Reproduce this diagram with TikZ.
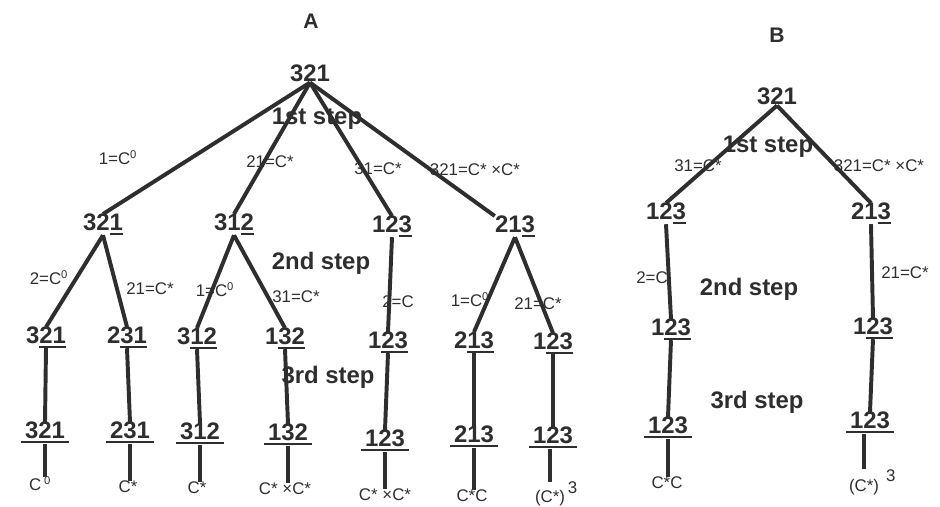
\documentclass[tikz,border=0pt]{standalone}
\usepackage{fontspec}
\setmainfont{Liberation Sans}
\usetikzlibrary{positioning}
\colorlet{ink}{black!82}
\newcommand\uln[1]{\setbox0\hbox{#1}\rlap{\rule[-2.8pt]{\wd0}{1.5pt}}\box0}
\newcommand\ulx[1]{\setbox0\hbox{#1}\kern-3pt\rlap{\rule[-3.2pt]{\dimexpr\wd0+6pt\relax}{1.7pt}}\kern3pt\box0}
\tikzset{perm/.style={font=\fontsize{17}{17}\selectfont\bfseries, text=ink, inner sep=0pt, anchor=base},
    branch/.style={draw=ink, line width=2.8pt},
    edgelbl/.style={font=\fontsize{12}{12}\selectfont, text=ink, inner sep=0pt},
    steplbl/.style={font=\fontsize{17}{17}\selectfont\bfseries, text=ink, inner sep=0pt},
    treetitle/.style={font=\fontsize{15}{15}\selectfont\bfseries, text=ink, inner sep=0pt}}
\begin{document}
\begin{tikzpicture}[x=0.25mm,y=-0.25mm]
\useasboundingbox (0,0) rectangle (940,507);
\begin{scope}
	\node[treetitle] (titleA) at (311,21) {A};
	\node[perm] (rA) at (310,82) {321};
	\node[perm] (a1) at (103,231) {32\uln{1}};
	\node[perm] (a2) at (234,231) {31\uln{2}};
	\node[perm] (a3) at (392,233) {12\uln{3}};
	\node[perm] (a4) at (515,233) {21\uln{3}};
	\node[perm] (b1) at (46,344) {3\uln{21}};
	\node[perm] (b2) at (127,344) {2\uln{31}};
	\node[perm] (b3) at (197,345) {3\uln{12}};
	\node[perm] (b4) at (285,345) {1\uln{32}};
	\node[perm] (b5) at (388,349) {1\uln{23}};
	\node[perm] (b6) at (474,349) {2\uln{13}};
	\node[perm] (b7) at (553,350) {1\uln{23}};
	\node[perm] (c1) at (45,439) {\ulx{321}};
	\node[perm] (c2) at (130,439) {\ulx{231}};
	\node[perm] (c3) at (200,440) {\ulx{312}};
	\node[perm] (c4) at (288,441) {\ulx{132}};
	\node[perm] (c5) at (385,447) {\ulx{123}};
	\node[perm] (c6) at (474,443) {\ulx{213}};
	\node[perm] (c7) at (553,444) {\ulx{123}};
	\node[edgelbl] (d1) at (40,484) {C\,\textsuperscript{0}};
	\node[edgelbl] (d2) at (128,487) {C*};
	\node[edgelbl] (d3) at (197,488) {C*};
	\node[edgelbl] (d4) at (285,489) {C* ×C*};
	\node[edgelbl] (d5) at (385,495) {C* ×C*};
	\node[edgelbl] (d6) at (472,496) {C*C};
	\node[edgelbl] (d7) at (550,494) {(C*)\rlap{\,\raisebox{6pt}{3}}};
	\draw[branch] (rA.south) -- (a1.north);
	\draw[branch] (rA.south) -- (a2.north);
	\draw[branch] (rA.south) -- (a3.north);
	\draw[branch] (rA.south) -- (a4.north west);
	\draw[branch] (a1.south) -- (b1.north);
	\draw[branch] (a1.south) -- (b2.north);
	\draw[branch] (a2.south) -- (b3.north);
	\draw[branch] (a2.south) -- (b4.north);
	\draw[branch] (a3.south) -- (b5.north);
	\draw[branch] (a4.south) -- (b6.north);
	\draw[branch] (a4.south) -- (b7.north);
	\draw[branch] (b1.south) -- (c1.north);
	\draw[branch] (b2.south) -- (c2.north);
	\draw[branch] (b3.south) -- (c3.north);
	\draw[branch] (b4.south) -- (c4.north);
	\draw[branch] (b5.south) -- (c5.north);
	\draw[branch] (b6.south) -- (c6.north);
	\draw[branch] (b7.south) -- (c7.north);
	\draw[branch] (c1.south) -- (c1.south |- d1.north);
	\draw[branch] (c2.south) -- (c2.south |- d2.north);
	\draw[branch] (c3.south) -- (c3.south |- d3.north);
	\draw[branch] (c4.south) -- (c4.south |- d4.north);
	\draw[branch] (c5.south) -- (c5.south |- d5.north);
	\draw[branch] (c6.south) -- (c6.south |- d6.north);
	\draw[branch] (d7.north |- c7.south) -- (d7.north);
	\node[edgelbl] at (118,158) {1=C\textsuperscript{0}};
	\node[edgelbl] at (270,162) {21=C*};
	\node[edgelbl] at (378,169) {31=C*};
	\node[edgelbl] at (475,170) {321=C* ×C*};
	\node[edgelbl] at (49,278) {2=C\textsuperscript{0}};
	\node[edgelbl] at (150,289) {21=C*};
	\node[edgelbl] at (215,290) {1=C\textsuperscript{0}};
	\node[edgelbl] at (296,297) {31=C*};
	\node[edgelbl] at (398,302) {2=C};
	\node[edgelbl] at (470,300) {1=C\textsuperscript{0}};
	\node[edgelbl] at (538,304) {21=C*};
	\node[steplbl] at (317,119) {1st step};
	\node[steplbl] at (321,263) {2nd step};
	\node[steplbl] at (328,377) {3rd step};
\end{scope}
\begin{scope}
	\node[treetitle] (titleB) at (777,35) {B};
	\node[perm] (rB) at (777,105) {321};
	\node[perm] (f1) at (666,220) {12\uln{3}};
	\node[perm] (f2) at (871,220) {21\uln{3}};
	\node[perm] (g1) at (671,336) {1\uln{23}};
	\node[perm] (g2) at (873,335) {1\uln{23}};
	\node[perm] (h1) at (668,434) {\ulx{123}};
	\node[perm] (h2) at (870,429) {\ulx{123}};
	\node[edgelbl] (k1) at (667,483) {C*C};
	\node[edgelbl] (k2) at (864,482) {(C*)\rlap{\hspace{5pt}\raisebox{7pt}{3}}};
	\draw[branch] (rB.south) -- (f1.north);
	\draw[branch] (rB.south) -- (f2.north);
	\draw[branch] (f1.south) -- (g1.north);
	\draw[branch] (f2.south) -- (g2.north);
	\draw[branch] (g1.south) -- (h1.north);
	\draw[branch] (g2.south) -- (h2.north);
	\draw[branch] (h1.south) -- (h1.south |- k1.north);
	\draw[branch] (k2.north |- h2.south) -- (k2.north);
	\node[edgelbl] at (698,166) {31=C*};
	\node[edgelbl] at (879,166) {321=C* ×C*};
	\node[edgelbl] at (652,278) {2=C};
	\node[edgelbl] at (905,273) {21=C*};
	\node[steplbl] at (768,147) {1st step};
	\node[steplbl] at (749,289) {2nd step};
	\node[steplbl] at (757,402) {3rd step};
\end{scope}
\end{tikzpicture}
\end{document}
